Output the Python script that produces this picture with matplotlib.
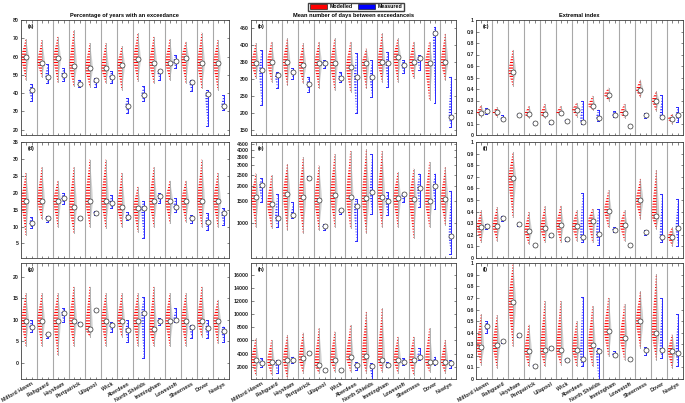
import numpy as np
import matplotlib
matplotlib.use('Agg')
import matplotlib.pyplot as plt
from matplotlib.patches import Polygon, Patch
from matplotlib.ticker import NullLocator

plt.rcParams['font.family'] = ['Liberation Sans', 'DejaVu Sans']
plt.rcParams['font.weight'] = 'bold'
plt.rcParams['font.size'] = 4
plt.rcParams['hatch.linewidth'] = 0.8

sites = ['Milford Haven', 'Fishguard', 'Heysham', 'Portpatrick', 'Ullapool', 'Wick',
         'Aberdeen', 'North Shields', 'Immingham', 'Lowestoft', 'Sheerness', 'Dover', 'Newlyn']

# each entry: (min, median, max) per site
a_mod = [(47.3, 59.6, 69.5), (49, 56.7, 69), (45.8, 59.1, 70.9), (43.6, 54.9, 74.5), (43.3, 53.5, 67.3),
         (45.5, 53.6, 67.3), (41.8, 55.5, 65.5), (46.4, 58.5, 72.7), (45.5, 56.7, 70.9), (47.3, 56.7, 69.5),
         (45.5, 59.1, 68.2), (42.7, 56.4, 73.1), (41.8, 56.7, 69.1)]
a_obs = [(35.5, 41.5, 44.9), (45.5, 49, 55.8), (46.4, 50, 53.6), (43.3, 44.9, 47.3), (43.3, 46.9, 48.2),
         (45.5, 49, 51.8), (29.1, 33.1, 37.3), (35.5, 39.1, 43.6), (47.3, 51.8, 52.7), (53.6, 57.3, 60.9),
         (40.9, 46, 47.3), (21.8, 39.5, 41.8), (30.5, 33, 39.1)]

b_mod = [(301.5, 345.5, 404), (291.7, 350, 409), (282, 350, 418.7), (287, 340, 404), (272, 345.5, 409),
         (267, 345.5, 418.7), (262.4, 335.7, 409), (272, 345.5, 389), (291.7, 350, 433.4), (291.7, 365, 418.7),
         (301.5, 350, 409), (238, 345.5, 409), (296.7, 350, 433)]
b_obs = [(223.3, 326, 384.5), (272, 311, 321), (301, 321, 331), (262.4, 285, 306.4), (331, 347, 355),
         (291.7, 301.5, 321), (199, 306.4, 374.8), (247.8, 304.4, 355), (277, 347, 379.7), (316, 340.6, 355),
         (326, 360, 370), (228, 433.4, 453), (159.8, 189, 306.4)]

c_mod = [(0.16, 0.193, 0.26), (0.16, 0.2, 0.24), (0.43, 0.55, 0.74), (0.15, 0.18, 0.25), (0.15, 0.18, 0.27),
         (0.17, 0.195, 0.25), (0.16, 0.22, 0.28), (0.22, 0.255, 0.34), (0.30, 0.35, 0.41), (0.15, 0.19, 0.27),
         (0.33, 0.39, 0.48), (0.21, 0.30, 0.38), (0.10, 0.14, 0.18)]
c_obs = [(0.18, 0.21, 0.236), (0.13, 0.14, 0.17), (0.17, 0.175, 0.18), (0.10, 0.105, 0.11), (0.10, 0.11, 0.12),
         (0.12, 0.125, 0.13), (0.10, 0.11, 0.30), (0.12, 0.15, 0.22), (0.16, 0.175, 0.21), (0.075, 0.08, 0.085),
         (0.15, 0.17, 0.19), (0.15, 0.155, 0.35), (0.11, 0.17, 0.24)]

d_mod = [(7.5, 17.7, 25.8), (12.1, 17.7, 27.5), (10, 17.7, 23.6), (8, 15.9, 27.5), (10, 17.7, 29.8),
         (9.5, 17.7, 29.8), (10, 15.7, 25.8), (8.5, 15.6, 21.8), (10, 17.7, 27.5), (11, 17.7, 23.6),
         (11.4, 17.7, 23.6), (10, 17.7, 29.8), (10, 17.7, 25.8)]
d_obs = [(9.5, 11.1, 12.9), (11.4, 12.4, 13.1), (16.7, 18.4, 20), (12.1, 12.4, 12.7), (13.5, 14.1, 14.5),
         (15.4, 17.1, 19.4), (11.9, 12.7, 14.4), (6.5, 15.4, 17.7), (16.9, 18.9, 19.9), (14.4, 15.9, 18.4),
         (11, 12.4, 13.4), (9, 11.4, 13.9), (10.4, 13.9, 15.4)]

e_mod = [(929, 1644, 2557), (901, 1428, 2478), (874, 1738, 3072), (822, 1644, 3475), (874, 1546, 2980),
         (929, 1684, 3693), (901, 1633, 3925), (822, 1605, 4048), (929, 1644, 3925), (929, 1605, 2637),
         (750, 1583, 2802), (929, 1518, 3169), (958, 1565, 2890)]
e_obs = [(1472, 2061, 2335), (929, 1103, 1738), (1103, 1151, 1472), (2300, 2370, 2443), (874, 941, 975),
         (1187, 1263, 1302), (705, 1384, 1583), (1187, 1790, 3693), (1151, 1500, 1800), (1472, 1716, 1768),
         (1343, 1940, 2557), (1302, 2024, 2557), (552, 773, 1845)]

f_mod = [(0.135, 0.265, 0.41), (0.15, 0.274, 0.438), (0.35, 0.69, 0.914), (0.12, 0.23, 0.395), (0.135, 0.256, 0.444),
         (0.135, 0.285, 0.452), (0.15, 0.274, 0.41), (0.135, 0.323, 0.424), (0.265, 0.409, 0.582), (0.15, 0.285, 0.41),
         (0.337, 0.496, 0.683), (0.25, 0.366, 0.755), (0.107, 0.18, 0.265)]
f_obs = [(0.25, 0.28, 0.294), (0.323, 0.346, 0.366), (0.28, 0.29, 0.30), (0.105, 0.11, 0.115), (0.185, 0.195, 0.205),
         (0.15, 0.16, 0.17), (0.135, 0.184, 0.562), (0.115, 0.207, 0.424), (0.222, 0.242, 0.265), (0.11, 0.115, 0.12),
         (0.2, 0.22, 0.24), (0.135, 0.179, 0.553), (0.107, 0.26, 0.51)]

g_mod = [(3.9, 9.8, 16.1), (3.9, 9.8, 16.1), (1.8, 9.8, 16.1), (3.9, 9.8, 17.7), (6, 7.8, 17.7),
         (3.9, 9.8, 16.1), (6, 9.8, 16.1), (3.9, 9.8, 16.1), (3.9, 7.8, 17.7), (3.9, 9.8, 16.1),
         (3.9, 9.8, 16.1), (6, 9.8, 17.7), (4.5, 9.8, 14.6)]
g_obs = [(7.2, 8.4, 9.9), (5.7, 6.7, 6.8), (9.5, 11.5, 12.6), (8.8, 9.0, 9.4), (12.0, 12.2, 12.3),
         (7.2, 8.7, 9.5), (4.9, 7.6, 9.9), (1.0, 11.6, 15.3), (8.8, 9.8, 10.3), (9.5, 9.9, 12.6),
         (5.7, 8.4, 8.8), (5.7, 8.0, 9.9), (4.9, 7.4, 8.4)]

h_mod = [(727, 3018, 6327), (727, 2764, 6073), (218, 3018, 6837), (982, 3273, 7193), (982, 2255, 7855),
         (1236, 3018, 7345), (1236, 3425, 8364), (982, 3629, 10400), (1236, 3018, 10900), (982, 3018, 6582),
         (727, 3018, 6582), (1236, 2764, 7855), (982, 2764, 6073)]
h_obs = [(2000, 2509, 3273), (982, 2764, 3018), (2509, 3018, 3527), (3934, 4138, 4291), (1400, 1491, 1600),
         (1450, 1491, 1550), (1491, 2255, 2764), (0, 2100, 2509), (2000, 2255, 2764), (2255, 2764, 3273),
         (3018, 3527, 4800), (2255, 2764, 3527), (1745, 2509, 3018)]

i_mod = [(0.124, 0.277, 0.558), (0.095, 0.298, 0.549), (0.283, 0.665, 1.0), (0.11, 0.24, 0.471), (0.11, 0.254, 0.673),
         (0.124, 0.254, 0.673), (0.11, 0.254, 0.5), (0.11, 0.298, 0.63), (0.197, 0.413, 0.702), (0.168, 0.355, 0.644),
         (0.269, 0.5, 0.76), (0.168, 0.399, 0.905), (0.095, 0.24, 0.384)]
i_obs = [(0.4, 0.457, 0.5), (0.312, 0.327, 0.341), (0.36, 0.376, 0.39), (0.105, 0.115, 0.12), (0.26, 0.269, 0.28),
         (0.155, 0.165, 0.175), (0.11, 0.176, 0.71), (0.0, 0.24, 0.269), (0.197, 0.211, 0.24), (0.16, 0.17, 0.18),
         (0.211, 0.254, 0.277), (0.182, 0.254, 0.702), (0.11, 0.225, 0.558)]

titles = ['Percentage of years with an exceedance', 'Mean number of days between exceedanceis', 'Extremal index']
unit_ticks = [0, 0.1, 0.2, 0.3, 0.4, 0.5, 0.6, 0.7, 0.8, 0.9, 1]

# panel: (label, modelled, measured, ylim, yticks, log)
panels = [
    ('(a)', a_mod, a_obs, (17, 80), [20, 30, 40, 50, 60, 70, 80], False),
    ('(b)', b_mod, b_obs, (135, 473), [150, 200, 250, 300, 350, 400, 450], False),
    ('(c)', c_mod, c_obs, (0, 1), unit_ticks, False),
    ('(d)', d_mod, d_obs, (0.7, 35), [5, 10, 15, 20, 25, 30, 35], False),
    ('(e)', e_mod, e_obs, (510, 4670), [1000, 1500, 2000, 2500, 3000, 3500, 4000, 4500], True),
    ('(f)', f_mod, f_obs, (0, 1), unit_ticks, False),
    ('(g)', g_mod, g_obs, (-3.8, 23.1), [0, 5, 10, 15, 20], False),
    ('(h)', h_mod, h_obs, (100, 17800), [2000, 4000, 6000, 8000, 10000, 12000, 14000, 16000], False),
    ('(i)', i_mod, i_obs, (0, 1), unit_ticks, False),
]

W, H = 685, 403
col_x = [(20.7, 228.7), (250.7, 456), (476, 683)]
row_y = [(20, 135), (142, 258), (263.3, 379)]

X_MOD, X_OBS = 0.33, 0.70


def half_violin(ax, x, lo, med, hi, side, width, log, **kw):
    # glyph outline for one distribution (min, median, max)
    if log:
        lo, med, hi = np.log10([lo, med, hi])
    ys = np.linspace(lo, hi, 60)
    s = np.where(ys >= med, max(hi - med, 1e-9) / 2.0, max(med - lo, 1e-9) / 2.0)
    w = width * np.exp(-0.5 * ((ys - med) / s) ** 2)
    xs = x + side * w
    if log:
        ys = 10 ** ys
    pts = np.column_stack([np.r_[xs, np.full(len(ys), x)], np.r_[ys, ys[::-1]]])
    ax.add_patch(Polygon(pts, closed=True, **kw))


fig = plt.figure(figsize=(W / 100, H / 100), dpi=100)

for k, (lab, mod, obs, ylim, yt, log) in enumerate(panels):
    r, c = divmod(k, 3)
    x0, x1 = col_x[c]
    y0, y1 = row_y[r]
    ax = fig.add_axes([x0 / W, 1 - y1 / H, (x1 - x0) / W, (y1 - y0) / H])
    if log:
        ax.set_yscale('log')
    ax.set_xlim(0, len(sites))
    ax.set_ylim(*ylim)

    for s in range(1, len(sites)):
        ax.axvline(s, color='#a8a8a8', lw=0.8, zorder=1)

    for j in range(len(sites)):
        xm = j + X_MOD
        xo = j + X_OBS
        lo, med, hi = mod[j]
        half_violin(ax, xm, lo, med, hi, 1, 0.17, log, facecolor='#d0d0d0', edgecolor='none', zorder=2)
        ax.plot([xm, xm], [lo, hi], color='#b0b0b0', lw=0.7, zorder=2)
        half_violin(ax, xm, lo, med, hi, -1, 0.28, log, facecolor='none', edgecolor='#ff0000',
                    lw=0, hatch='------', zorder=3)
        ax.plot(xm, med, 'o', ms=3.6, mfc='white', mec='#333333', mew=0.5, zorder=6)

        lo, med, hi = obs[j]
        half_violin(ax, xo, lo, med, hi, -1, 0.16, log, facecolor='none', edgecolor='#2a2aff',
                    lw=0, hatch='------', zorder=3)
        ax.plot([xo, xo], [lo, hi], color='#2a2aff', lw=0.7, zorder=4)
        ax.plot([xo - 0.12, xo], [lo, lo], color='#2a2aff', lw=0.7, zorder=4)
        ax.plot([xo - 0.12, xo], [hi, hi], color='#2a2aff', lw=0.7, zorder=4)
        ax.plot(xo, med, 'o', ms=3.6, mfc='white', mec='#333333', mew=0.5, zorder=6)

    ticks = []
    labels = []
    for j, name in enumerate(sites):
        ticks += [j + X_MOD, j + X_OBS]
        labels += ['', name if r == 2 else '']
    ax.set_xticks(ticks)
    ax.set_xticklabels(labels, rotation=30, ha='right', rotation_mode='anchor', fontsize=3.8)

    ax.set_yticks(yt)
    ax.set_yticklabels([f'{v:g}' for v in yt], fontsize=3.8)
    ax.yaxis.set_minor_locator(NullLocator())

    ax.tick_params(direction='in', length=1.8, width=0.4, pad=1.5, top=True, right=True, colors='#262626')
    for sp in ax.spines.values():
        sp.set_linewidth(0.6)
        sp.set_color('#404040')

    ax.text(0.035, 0.965, lab, transform=ax.transAxes, va='top', ha='left', fontsize=3.8)
    if r == 0:
        ax.set_title(titles[c], fontsize=4.1, fontweight='bold', pad=2.5)

handles = [Patch(facecolor='#ff0000', edgecolor='k', lw=0.4, label='Modelled'),
           Patch(facecolor='#0000ff', edgecolor='k', lw=0.4, label='Measured')]
fig.legend(handles=handles, loc='upper center', bbox_to_anchor=(356 / W, 1.0), ncol=2, fontsize=3.8,
           frameon=True, fancybox=False, edgecolor='#404040', framealpha=1, handlelength=3.2,
           handleheight=1.0, borderpad=0.3, columnspacing=1.0, handletextpad=0.5)

fig.savefig('out.png', dpi=100)
